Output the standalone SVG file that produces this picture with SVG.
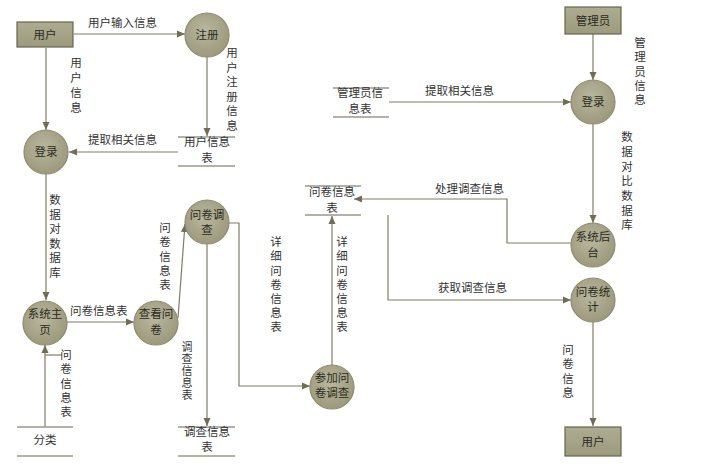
<svg xmlns="http://www.w3.org/2000/svg" width="720" height="473" viewBox="0 0 720 473">
<style>
text{font-family:"Noto Sans CJK SC","Liberation Sans",sans-serif;font-size:11.5px;fill:#333}
.c text,.b text{text-anchor:middle;fill:#2a2a20}
.proc{fill:url(#cg);stroke:#8d8b70;stroke-width:1.2}
.box{fill:url(#bg);stroke:#66654c;stroke-width:1.2}
.ds line{stroke:#999988;stroke-width:1.6}
.ds text{text-anchor:middle}
.vt{writing-mode:vertical-rl;text-orientation:upright;letter-spacing:3px}
#connectors path{fill:none;stroke:#7f7d64;stroke-width:1.2;marker-end:url(#ah)}
#connectors path.n{marker-end:none}
</style>
<defs>
<radialGradient id="cg" cx="0.45" cy="0.4" r="0.6">
<stop offset="0" stop-color="#b9b79e"/>
<stop offset="1" stop-color="#9c997c"/>
</radialGradient>
<linearGradient id="bg" x1="0" y1="0" x2="0" y2="1">
<stop offset="0" stop-color="#aeac90"/>
<stop offset="1" stop-color="#9d9b7e"/>
</linearGradient>
<marker id="ah" viewBox="0 0 8 8" refX="8" refY="4" markerWidth="8" markerHeight="8" markerUnits="userSpaceOnUse" orient="auto">
<path d="M0,0.5 L8,4 L0,7.5 z" fill="#6f6d55"/>
</marker>
</defs>
<rect width="720" height="473" fill="#fff"/>

<g id="connectors">
<path d="M74,34 H185"/>
<path d="M46,48 V130"/>
<path d="M207,57 V136"/>
<path d="M178,152 H69"/>
<path d="M46,174 V300"/>
<path d="M67,322 H134"/>
<path d="M178,318 L185,224"/>
<path d="M207,244 V426"/>
<path d="M229,223 H239 V386 H310"/>
<path d="M332,365 V216"/>
<path d="M45,427 V345"/>
<path class="n" d="M45,355 H62"/>
<path d="M593,34 V80"/>
<path d="M389,102 H571"/>
<path d="M593,124 V223"/>
<path d="M571,243 H507 V199 H354"/>
<path d="M388,215 V300 H571"/>
<path d="M593,322 V426"/>
</g>

<g id="labels">
<text x="88" y="27">用户输入信息</text>
<text x="88" y="144">提取相关信息</text>
<text x="70" y="315">问卷信息表</text>
<text x="425" y="95">提取相关信息</text>
<text x="435" y="193">处理调查信息</text>
<text x="438" y="292">获取调查信息</text>
<text class="vt" x="76" y="57" style="letter-spacing:3.5px">用户信息</text>
<text class="vt" x="232" y="47">用户注册信息</text>
<text class="vt" x="55" y="194">数据对数据库</text>
<text class="vt" x="165" y="222" style="letter-spacing:2.7px">问卷信息表</text>
<text class="vt" x="66" y="349" style="letter-spacing:2.7px">问卷信息表</text>
<text class="vt" x="187" y="341" style="font-size:11px;letter-spacing:1px">调查信息表</text>
<text class="vt" x="276" y="236" style="letter-spacing:2.7px">详细问卷信息表</text>
<text class="vt" x="342" y="236" style="letter-spacing:2.7px">详细问卷信息表</text>
<text class="vt" x="640" y="37" style="letter-spacing:2.8px">管理员信息</text>
<text class="vt" x="627" y="131" style="letter-spacing:3.2px">数据对比数据库</text>
<text class="vt" x="568" y="344" style="letter-spacing:2.8px">问卷信息</text>
</g>

<g id="user-top" class="b">
<rect class="box" x="17" y="22" width="56" height="25"/>
<text x="45" y="39">用户</text>
</g>
<g id="admin" class="b">
<rect class="box" x="565" y="7" width="56" height="27"/>
<text x="593" y="25">管理员</text>
</g>
<g id="user-bottom" class="b">
<rect class="box" x="565" y="427" width="56" height="29"/>
<text x="593" y="446">用户</text>
</g>

<g id="register" class="c">
<circle class="proc" cx="207" cy="35" r="22"/>
<text x="207" y="39">注册</text>
</g>
<g id="login-user" class="c">
<circle class="proc" cx="46" cy="152" r="22"/>
<text x="46" y="156">登录</text>
</g>
<g id="home" class="c">
<circle class="proc" cx="45" cy="323" r="22"/>
<text x="45" y="318">系统主</text>
<text x="45" y="333.5">页</text>
</g>
<g id="view-survey" class="c">
<circle class="proc" cx="156" cy="323" r="22"/>
<text x="156" y="318">查看问</text>
<text x="156" y="333.5">卷</text>
</g>
<g id="survey" class="c">
<circle class="proc" cx="207" cy="222" r="22"/>
<text x="207" y="219">问卷调</text>
<text x="207" y="234">查</text>
</g>
<g id="join-survey" class="c">
<circle class="proc" cx="332" cy="387" r="22"/>
<text x="332" y="381.5">参加问</text>
<text x="332" y="397">卷调查</text>
</g>
<g id="login-admin" class="c">
<circle class="proc" cx="593" cy="102" r="22"/>
<text x="593" y="106">登录</text>
</g>
<g id="backend" class="c">
<circle class="proc" cx="593" cy="245" r="22"/>
<text x="593" y="241">系统后</text>
<text x="593" y="257">台</text>
</g>
<g id="stats" class="c">
<circle class="proc" cx="593" cy="300" r="22"/>
<text x="593" y="295.5">问卷统</text>
<text x="593" y="311">计</text>
</g>

<g id="ds-user" class="ds">
<line x1="178" y1="137" x2="235" y2="137"/>
<line x1="178" y1="166" x2="235" y2="166"/>
<text x="207" y="146">用户信息</text>
<text x="207" y="161.5">表</text>
</g>
<g id="ds-survey-result" class="ds">
<line x1="178" y1="427" x2="235" y2="427"/>
<line x1="178" y1="456" x2="235" y2="456"/>
<text x="207" y="435.5">调查信息</text>
<text x="207" y="451">表</text>
</g>
<g id="ds-survey" class="ds">
<line x1="305" y1="186" x2="361" y2="186"/>
<line x1="305" y1="215" x2="361" y2="215"/>
<text x="332" y="196">问卷信息</text>
<text x="332" y="212">表</text>
</g>
<g id="ds-admin" class="ds">
<line x1="333" y1="88" x2="389" y2="88"/>
<line x1="333" y1="117" x2="389" y2="117"/>
<text x="360" y="97">管理员信</text>
<text x="360" y="112.5">息表</text>
</g>
<g id="ds-category" class="ds">
<line x1="17" y1="427" x2="73" y2="427"/>
<line x1="17" y1="456" x2="73" y2="456"/>
<text x="45" y="444">分类</text>
</g>
</svg>
